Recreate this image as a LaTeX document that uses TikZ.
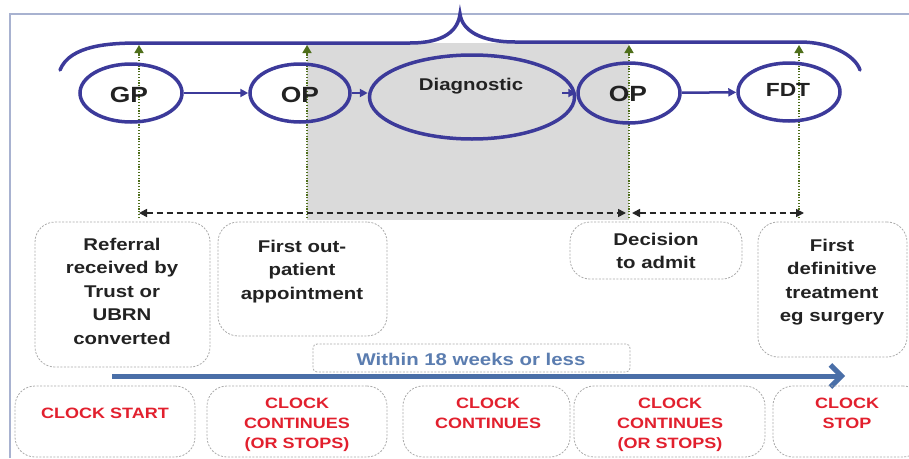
\documentclass[tikz,border=0pt]{standalone}
\usepackage{fontspec}
\setmainfont[FakeStretch=1.2]{Liberation Sans}
\usetikzlibrary{arrows.meta,shapes.geometric}
\definecolor{navy}{HTML}{3C3A9A}
\definecolor{guidegreen}{HTML}{4E6E1A}
\definecolor{clockred}{HTML}{E2202E}
\definecolor{withinblue}{HTML}{5B7DB0}
\definecolor{bigarrow}{HTML}{4A6FA8}
\definecolor{greyfill}{HTML}{DADADA}
\definecolor{framecol}{HTML}{A8B2D0}
\definecolor{ink}{HTML}{222222}
\tikzset{
  ell/.style={ellipse, draw=navy, line width=3.5pt, inner sep=0pt},
  big/.style={font=\fontsize{22pt}{26pt}\selectfont\bfseries, text=ink, inner sep=0pt},
  box/.style={draw=gray!65, dash pattern=on 2pt off 1.5pt, line width=0.8pt, rounded corners=20pt, inner sep=0pt},
  txt/.style={align=center, font=\fontsize{17pt}{23.5pt}\selectfont\bfseries, text=ink, inner sep=0pt, anchor=north},
  clk/.style={align=center, font=\fontsize{15pt}{20pt}\selectfont\bfseries, text=clockred, inner sep=0pt, anchor=north},
  flow/.style={draw=navy, line width=2.5pt, -{Triangle[length=8pt,width=8pt]}},
  guide/.style={draw=guidegreen, line width=1.6pt, dash pattern=on 1.2pt off 1.6pt, -{Triangle[length=8pt,width=9pt]}},
  span/.style={draw=black!85, line width=1.6pt, dash pattern=on 6pt off 4pt, {Triangle[length=8pt,width=8pt]}-{Triangle[length=8pt,width=8pt]}}
}
\begin{document}
\begin{tikzpicture}[x=1pt,y=-1pt]
\clip (0,0) rectangle (909,458);
\fill[white] (0,0) rectangle (909,458);
% shaded period
\fill[greyfill] (307,43) rectangle (629,220);
% frame
\draw[framecol, line width=1.5pt] (10,458) -- (10,14) -- (909,14);
% brace
\draw[navy, line width=3.5pt, line cap=round] (60,70) .. controls (70,45) and (110,43) .. (140,43) -- (410,43)
  .. controls (445,43) and (458,30) .. (460,14) .. controls (462,30) and (480,42) .. (515,42) -- (800,42)
  .. controls (830,42) and (855,55) .. (860,70);
% coordinates for guides
\coordinate (t1) at (139,45); \coordinate (t2) at (307,45);
\coordinate (t3) at (629,45); \coordinate (t4) at (799,45);
\coordinate (b1) at (139,218); \coordinate (b2) at (307,218);
\coordinate (b3) at (629,218); \coordinate (b4) at (799,218);
\coordinate (d1) at (139,213); \coordinate (d2) at (626,213);
\coordinate (d3) at (632,213); \coordinate (d4) at (804,213);
\draw[guide] (b1) -- (t1);
\draw[guide] (b2) -- (t2);
\draw[guide] (b3) -- (t3);
\draw[guide] (b4) -- (t4);
\draw[span] (d1) -- (d2);
\draw[span] (d3) -- (d4);
% ellipses
\node[ell, minimum width=102pt, minimum height=58pt] (gp) at (131,93) {};
\node[ell, minimum width=100pt, minimum height=58pt] (op1) at (300,93) {};
\node[ell, minimum width=205pt, minimum height=84pt] (diag) at (472,97) {};
\node[ell, minimum width=102pt, minimum height=60pt] (op2) at (629,93) {};
\node[ell, minimum width=102pt, minimum height=58pt] (fdt) at (789,92) {};
\node[big] (gpt) at (129,95) {GP};
\node[big] (op1t) at (300,95) {OP};
\node[big, font=\fontsize{17pt}{20pt}\selectfont\bfseries] (diagt) at (471,86) {Diagnostic};
\node[big] (op2t) at (628,94) {OP};
\node[big, font=\fontsize{19pt}{22pt}\selectfont\bfseries] (fdtt) at (788,90) {FDT};
\draw[flow] (gp) -- (op1);
\draw[flow] (op1.east) -- (diag.west |- op1.east);
\draw[flow] ([xshift=-14pt]diag.east |- op2.west) -- (op2.west);
\draw[flow] (op2) -- (fdt);
% upper boxes
\node[box, minimum width=175pt, minimum height=145pt] (bx1) at (122.5,294.5) {};
\node[box, minimum width=169pt, minimum height=114pt] (bx2) at (302.5,279) {};
\node[box, minimum width=172pt, minimum height=57pt] (bx3) at (656,250.5) {};
\node[box, minimum width=149pt, minimum height=135pt] (bx4) at (832.5,289.5) {};
\node[txt] (tx1) at (122,237.5) {Referral\\received by\\Trust or\\UBRN\\converted};
\node[txt] (tx2) at (302,239.5) {First out-\\patient\\appointment};
\node[txt] (tx3) at (656,232.5) {Decision\\to admit};
\node[txt] (tx4) at (832,238.5) {First\\definitive\\treatment\\eg surgery};
% within
\node[box, rounded corners=4pt, minimum width=317pt, minimum height=28pt] (wbox) at (471.5,358) {};
\node[font=\fontsize{17pt}{20pt}\selectfont\bfseries, text=withinblue, inner sep=0pt] (wtxt) at (471,359) {Within 18 weeks or less};
\coordinate (as) at (112,376);
\coordinate (ae) at (845,376);
\draw[bigarrow, line width=5pt, -{Straight Barb[length=11pt,width=22pt]}] (as) -- (ae);
% bottom boxes
\node[box, minimum width=180pt, minimum height=71pt] (c1) at (105,421.5) {};
\node[box, minimum width=180pt, minimum height=71pt] (c2) at (297,421.5) {};
\node[box, minimum width=167pt, minimum height=71pt] (c3) at (486.5,421.5) {};
\node[box, minimum width=191pt, minimum height=71pt] (c4) at (669.5,421.5) {};
\node[box, minimum width=150pt, minimum height=71pt] (c5) at (848,421.5) {};
\node[clk] (ct1) at (105,407.6) {CLOCK START};
\node[clk] (ct2) at (297,397.6) {CLOCK\\CONTINUES\\(OR STOPS)};
\node[clk] (ct3) at (488,397.6) {CLOCK\\CONTINUES};
\node[clk] (ct4) at (670,397.6) {CLOCK\\CONTINUES\\(OR STOPS)};
\node[clk] (ct5) at (847,397.6) {CLOCK\\STOP};
\end{tikzpicture}
\end{document}
